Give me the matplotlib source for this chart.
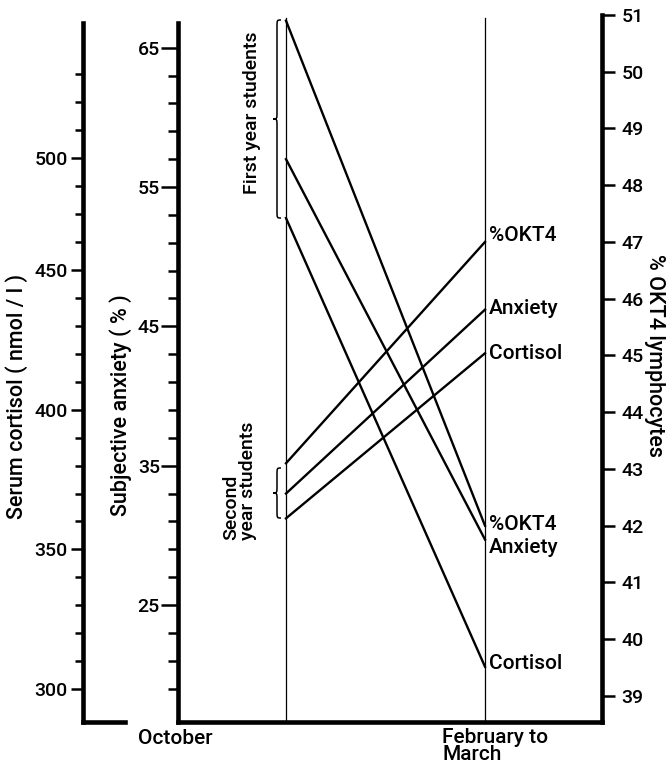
import numpy as np
import matplotlib
matplotlib.use('Agg')
import matplotlib.pyplot as plt
from matplotlib.path import Path
from matplotlib.patches import PathPatch

plt.rcParams['font.family'] = ['Roboto', 'DejaVu Sans']
plt.rcParams['font.weight'] = 'medium'

# data: October -> February/March
periods = [0, 1]
period_labels = ['October', 'February to\nMarch']

cortisol_first = [468.6, 308.0]
cortisol_second = [361.1, 420.2]
anxiety_first = [57.0, 29.7]
anxiety_second = [33.0, 46.2]
okt4_first = [50.9, 42.0]
okt4_second = [43.1, 47.0]

# tick setup (the original draws "500" one minor step low, kept as drawn)
cortisol_major = [300, 350, 400, 450, 490]
cortisol_major_labels = ['300', '350', '400', '450', '500']
cortisol_minor = [310, 320, 330, 340, 360, 370, 380, 390, 410, 420, 430, 440,
                  460, 470, 480, 500, 510, 520]
anxiety_major = [25, 35, 45, 55, 65]
anxiety_minor = [19, 21, 23, 27, 29, 31, 33, 37, 39, 41, 43, 47, 49, 51, 53,
                 57, 59, 61, 63]
okt4_ticks = list(range(39, 52))

W, H = 667, 765


def fx(px):
    return px / W


def fy(py):
    return 1 - py / H


def brace(fig, x0, top, bot, w=8, r=7):
    """curly brace pointing left, in pixel coords (y down)"""
    xm = x0 + w / 2
    mid = (top + bot) / 2
    verts = [(x0 + w, top),
             (xm, top), (xm, top), (xm, top + r),
             (xm, mid - r),
             (xm, mid), (xm, mid), (x0, mid),
             (xm, mid), (xm, mid), (xm, mid + r),
             (xm, bot - r),
             (xm, bot), (xm, bot), (x0 + w, bot)]
    codes = [Path.MOVETO] + [Path.CURVE4] * 3 + [Path.LINETO] + [Path.CURVE4] * 6 \
        + [Path.LINETO] + [Path.CURVE4] * 3
    verts = [(fx(a), fy(b)) for a, b in verts]
    fig.add_artist(PathPatch(Path(verts, codes), fill=False, lw=1.1,
                             transform=fig.transFigure))


fig = plt.figure(figsize=(6.67, 7.65), dpi=100)
left, right, top, bottom = 83, 602, 15, 722
ax = fig.add_axes([fx(left), fy(bottom), fx(right - left), (bottom - top) / H])
ax2 = ax.twinx()
ax3 = ax.twinx()

oct_px, feb_px = 286, 485
step = feb_px - oct_px
ax.set_xlim((left - oct_px) / step, (right - oct_px) / step)

spine_w = 3.3
lab_fs = 14
txt_fs = 15
title_fs = 15.5

# cortisol axis (outer left)
ax.set_ylim(288.2, 541.3)
for s in ['top', 'right']:
    ax.spines[s].set_visible(False)
ax.spines['left'].set_bounds(288.2, 538.4)
ax.spines['bottom'].set_bounds((left - oct_px) / step, (125 - oct_px) / step)
ax.set_xticks([])
ax.set_yticks(cortisol_major)
ax.set_yticklabels(cortisol_major_labels)
ax.set_yticks(cortisol_minor, minor=True)
ax.tick_params(axis='y', which='major', length=9, width=1.8, pad=2, labelsize=lab_fs)
ax.tick_params(axis='y', which='minor', length=6, width=1.8)

# anxiety axis (inner left)
ax2.set_ylim(16.6, 67.35)
for s in ['top', 'right']:
    ax2.spines[s].set_visible(False)
ax2.spines['left'].set_visible(True)
ax2.spines['left'].set_position(('axes', (178 - left) / (right - left)))
ax2.spines['left'].set_bounds(16.6, 66.77)
ax2.spines['bottom'].set_visible(True)
ax2.spines['bottom'].set_bounds((178 - oct_px) / step, (right - oct_px) / step)
ax2.yaxis.tick_left()
ax2.set_yticks(anxiety_major)
ax2.set_yticks(anxiety_minor, minor=True)
ax2.tick_params(axis='y', which='major', length=12, width=1.8, pad=1, labelsize=lab_fs)
ax2.tick_params(axis='y', which='minor', length=7, width=1.8)

# %OKT4 axis (right)
ax3.set_ylim(38.54, 51.0)
for s in ['top', 'left', 'bottom']:
    ax3.spines[s].set_visible(False)
ax3.set_yticks(okt4_ticks)
ax3.tick_params(axis='y', which='major', length=9, width=1.8, pad=5, labelsize=lab_fs)

for a in (ax, ax2, ax3):
    for s in a.spines.values():
        s.set_linewidth(spine_w)
        s.set_capstyle('projecting')

# period lines
for p in periods:
    ax.axvline(p, ymax=(bottom - 18) / (bottom - top), color='black', lw=0.9)

line_kw = dict(color='black', lw=1.7)
ax.plot(periods, cortisol_first, **line_kw)
ax.plot(periods, cortisol_second, **line_kw)
ax2.plot(periods, anxiety_first, **line_kw)
ax2.plot(periods, anxiety_second, **line_kw)
ax3.plot(periods, okt4_first, **line_kw)
ax3.plot(periods, okt4_second, **line_kw)

# end labels
end_labels = [(ax3, okt4_second[1], '%OKT4', 5),
              (ax2, anxiety_second[1], 'Anxiety', 1),
              (ax, cortisol_second[1], 'Cortisol', 0),
              (ax3, okt4_first[1], '%OKT4', 1),
              (ax2, anxiety_first[1], 'Anxiety', -6),
              (ax, cortisol_first[1], 'Cortisol', 2)]
for a, v, txt, dy in end_labels:
    a.annotate(txt, (periods[1], v), xytext=(3, dy), textcoords='offset points',
               ha='left', va='center', fontsize=txt_fs)

# braces and group labels
brace(fig, 273, 20, 218)
brace(fig, 273, 468, 518)
fig.text(fx(252), fy(113), 'First year students', rotation=90,
         ha='center', va='center', fontsize=lab_fs)
fig.text(fx(240), fy(540), 'Second\nyear students', rotation=90,
         ha='center', va='bottom', multialignment='left', fontsize=lab_fs,
         linespacing=0.9)

# axis titles
fig.text(fx(17), fy(396), 'Serum cortisol ( nmol / l )', rotation=90,
         ha='center', va='center', fontsize=title_fs)
fig.text(fx(121), fy(405), 'Subjective anxiety ( % )', rotation=90,
         ha='center', va='center', fontsize=title_fs)
fig.text(fx(654), fy(355), '% OKT4 lymphocytes', rotation=-90,
         ha='center', va='center', fontsize=title_fs)

# period labels
fig.text(fx(175), fy(738), period_labels[0], ha='center', va='center', fontsize=txt_fs)
fig.text(fx(442), fy(728), period_labels[1], ha='left', va='top', fontsize=txt_fs,
         linespacing=0.9)

fig.savefig('out.png', dpi=100)
